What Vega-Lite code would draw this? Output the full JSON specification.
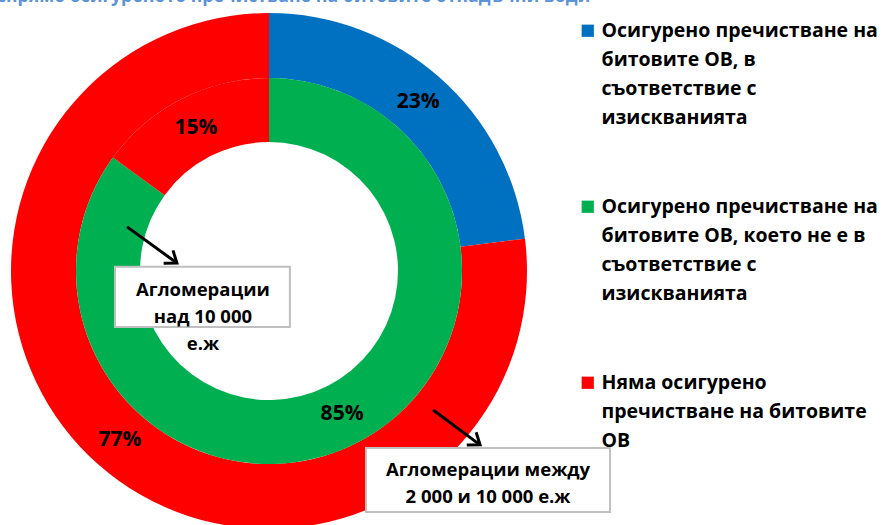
{
  "$schema": "https://vega.github.io/schema/vega-lite/v6.json",
  "width": 538,
  "height": 542,
  "autosize": {"type": "none"},
  "padding": {"left": 0, "top": 0, "right": 348, "bottom": 0},
  "background": "white",
  "title": {
    "text": "спрямо осигуреното пречистване на битовите отпадъчни води",
    "anchor": "start",
    "frame": "group",
    "offset": -20,
    "baseline": "alphabetic",
    "dx": -3,
    "font": "Open Sans",
    "fontSize": 17.7,
    "fontWeight": "bold",
    "color": "#5B92D8"
  },
  "config": {"view": {"stroke": null}, "font": "Open Sans"},
  "datasets": {
    "shares": [
      {"ring": "outer", "category": "Осигурено пречистване на битовите ОВ, в съответствие с изискванията", "share": 0.23, "o": 1},
      {"ring": "outer", "category": "Няма осигурено пречистване на битовите ОВ", "share": 0.77, "o": 3},
      {"ring": "inner", "category": "Осигурено пречистване на битовите ОВ, което не е в съответствие с изискванията", "share": 0.85, "o": 2},
      {"ring": "inner", "category": "Няма осигурено пречистване на битовите ОВ", "share": 0.15, "o": 3}
    ],
    "boxes": [
      {"name": "над 10 000", "x1": -0.597, "x2": 0.081, "y1": 0.016, "y2": -0.217},
      {"name": "между", "x1": 0.376, "x2": 1.322, "y1": -0.686, "y2": -0.934}
    ],
    "notes": [
      {"name": "над 10 000", "x": -0.256, "y": -0.074, "lines": ["Агломерации", "над  10 000", "е.ж"]},
      {"name": "между", "x": 0.849, "y": -0.771, "lines": ["Агломерации между", "2 000 и 10 000 е.ж"]}
    ],
    "arrows": [
      {"name": "над 10 000", "x1": -0.550, "y1": 0.171, "x2": -0.357, "y2": 0.031},
      {"name": "между", "x1": 0.636, "y1": -0.539, "x2": 0.818, "y2": -0.674}
    ]
  },
  "layer": [
    {
      "data": {"name": "shares"},
      "transform": [{"filter": "datum.ring == 'outer'"}],
      "mark": {"type": "arc", "radius": 258, "radius2": 193},
      "encoding": {
        "theta": {"field": "share", "type": "quantitative", "stack": true},
        "order": {"field": "o", "type": "quantitative"},
        "color": {
          "field": "category",
          "type": "nominal",
          "scale": {
            "domain": [
              "Осигурено пречистване на битовите ОВ, в съответствие с изискванията",
              "Осигурено пречистване на битовите ОВ, което не е в съответствие с изискванията",
              "Няма осигурено пречистване на битовите ОВ"
            ],
            "range": ["#0070C0", "#00B050", "#FF0000"]
          },
          "legend": {
            "title": null,
            "orient": "none",
            "legendX": 578,
            "legendY": 21,
            "symbolType": "square",
            "symbolSize": 150,
            "symbolStrokeWidth": 0,
            "labelFont": "Open Sans",
            "labelFontSize": 19.5,
            "labelFontWeight": "bold",
            "labelColor": "#000000",
            "labelLimit": 0,
            "labelBaseline": "top",
            "labelOffset": 4,
            "rowPadding": 68,
            "labelExpr": "datum.value == 'Осигурено пречистване на битовите ОВ, в съответствие с изискванията' ? ['Осигурено пречистване на', 'битовите ОВ, в', 'съответствие с', 'изискванията'] : datum.value == 'Няма осигурено пречистване на битовите ОВ' ? ['Няма осигурено', 'пречистване на битовите', 'ОВ'] : ['Осигурено пречистване на', 'битовите ОВ, което не е в', 'съответствие с', 'изискванията']",
            "encode": {"labels": {"update": {"lineHeight": {"value": 29}, "dy": {"value": -9}}}}
          }
        }
      }
    },
    {
      "data": {"name": "shares"},
      "transform": [{"filter": "datum.ring == 'inner'"}],
      "mark": {"type": "arc", "radius": 193, "radius2": 129},
      "encoding": {
        "theta": {"field": "share", "type": "quantitative", "stack": true},
        "order": {"field": "o", "type": "quantitative"},
        "color": {"field": "category", "type": "nominal"}
      }
    },
    {
      "data": {"name": "shares"},
      "transform": [{"filter": "datum.ring == 'outer'"}],
      "mark": {"type": "text", "radius": 225.5, "font": "Open Sans", "fontSize": 21, "fontWeight": "bold", "color": "#000000", "align": "center", "baseline": "middle"},
      "encoding": {
        "theta": {"field": "share", "type": "quantitative", "stack": true},
        "order": {"field": "o", "type": "quantitative"},
        "text": {"field": "share", "type": "quantitative", "format": ".0%"}
      }
    },
    {
      "data": {"name": "shares"},
      "transform": [{"filter": "datum.ring == 'inner'"}],
      "mark": {"type": "text", "radius": 161, "font": "Open Sans", "fontSize": 21, "fontWeight": "bold", "color": "#000000", "align": "center", "baseline": "middle"},
      "encoding": {
        "theta": {"field": "share", "type": "quantitative", "stack": true},
        "order": {"field": "o", "type": "quantitative"},
        "text": {"field": "share", "type": "quantitative", "format": ".0%"}
      }
    },
    {
      "data": {"name": "arrows"},
      "mark": {"type": "rule", "color": "#000000", "strokeWidth": 3},
      "encoding": {
        "x": {"field": "x1", "type": "quantitative", "scale": {"domain": [-1.04264, 1.04264], "nice": false, "zero": false}, "axis": null},
        "y": {"field": "y1", "type": "quantitative", "scale": {"domain": [-1.05039, 1.05039], "nice": false, "zero": false}, "axis": null},
        "x2": {"field": "x2"},
        "y2": {"field": "y2"}
      }
    },
    {
      "data": {"name": "arrows"},
      "mark": {"type": "point", "shape": "M-1,-0.75L0,0L-1,0.75", "filled": false, "stroke": "#000000", "strokeWidth": 3, "size": 450, "angle": 36, "opacity": 1, "strokeJoin": "miter"},
      "encoding": {
        "x": {"field": "x2", "type": "quantitative", "scale": {"domain": [-1.04264, 1.04264], "nice": false, "zero": false}, "axis": null},
        "y": {"field": "y2", "type": "quantitative", "scale": {"domain": [-1.05039, 1.05039], "nice": false, "zero": false}, "axis": null}
      }
    },
    {
      "data": {"name": "boxes"},
      "mark": {"type": "rect", "fill": "#FFFFFF", "stroke": "#BFBFBF", "strokeWidth": 2},
      "encoding": {
        "x": {"field": "x1", "type": "quantitative", "scale": {"domain": [-1.04264, 1.04264], "nice": false, "zero": false}, "axis": null},
        "y": {"field": "y1", "type": "quantitative", "scale": {"domain": [-1.05039, 1.05039], "nice": false, "zero": false}, "axis": null},
        "x2": {"field": "x2"},
        "y2": {"field": "y2"}
      }
    },
    {
      "data": {"name": "notes"},
      "mark": {"type": "text", "font": "Open Sans", "fontSize": 18.5, "fontWeight": "bold", "color": "#000000", "align": "center", "baseline": "middle", "lineHeight": 27},
      "encoding": {
        "x": {"field": "x", "type": "quantitative", "scale": {"domain": [-1.04264, 1.04264], "nice": false, "zero": false}, "axis": null},
        "y": {"field": "y", "type": "quantitative", "scale": {"domain": [-1.05039, 1.05039], "nice": false, "zero": false}, "axis": null},
        "text": {"field": "lines", "type": "nominal"}
      }
    }
  ]
}
